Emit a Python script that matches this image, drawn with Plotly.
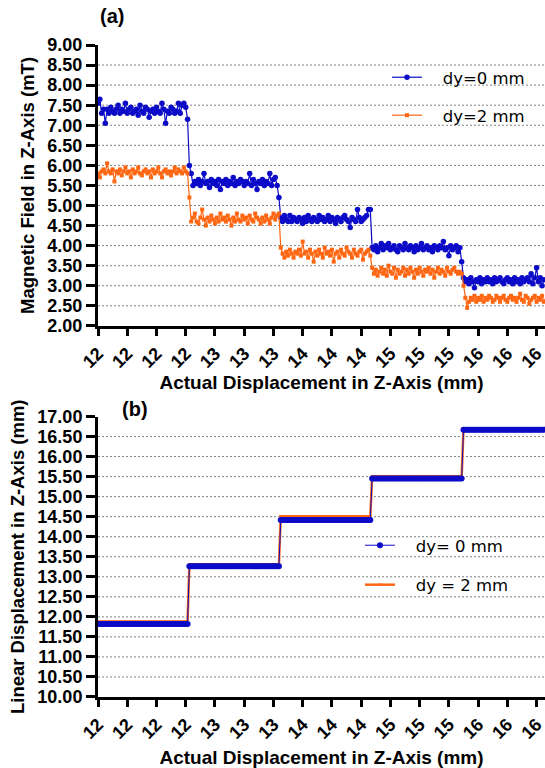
import plotly.graph_objects as go

# ---------------------------------------------------------------------------
# Data
# ---------------------------------------------------------------------------
# Magnetic field along Z (mT), one reading per sample, dy = 0 mm
mag_dy0 = [
    # step 1
    7.55, 7.65, 7.30, 7.40, 7.05, 7.40, 7.30, 7.45, 7.35, 7.30,
    7.40, 7.50, 7.30, 7.40, 7.35, 7.55, 7.30, 7.40, 7.45, 7.30,
    7.35, 7.40, 7.25, 7.50, 7.35, 7.30, 7.45, 7.40, 7.20, 7.35,
    7.40, 7.30, 7.45, 7.35, 7.30, 7.55, 7.40, 7.05, 7.35, 7.30,
    7.45, 7.40, 7.30, 7.35, 7.55, 7.30, 7.50, 7.55, 7.45, 7.15,
    # step 2
    6.00, 5.80, 5.50, 5.60, 5.55, 5.65, 5.50, 5.60, 5.80, 5.55,
    5.60, 5.45, 5.65, 5.55, 5.60, 5.50, 5.65, 5.40, 5.60, 5.55,
    5.65, 5.50, 5.60, 5.55, 5.70, 5.50, 5.60, 5.55, 5.65, 5.60,
    5.50, 5.60, 5.55, 5.80, 5.50, 5.65, 5.55, 5.40, 5.60, 5.55,
    5.65, 5.50, 5.60, 5.55, 5.80, 5.50, 5.65, 5.70, 5.50, 5.20,
    # step 3
    4.70, 4.60, 4.75, 4.65, 4.60, 4.75, 4.60, 4.70, 4.65, 4.60,
    4.70, 4.65, 4.55, 4.70, 4.60, 4.75, 4.65, 4.60, 4.70, 4.65,
    4.60, 4.75, 4.65, 4.70, 4.60, 4.65, 4.75, 4.60, 4.70, 4.65,
    4.55, 4.70, 4.65, 4.60, 4.70, 4.75, 4.65, 4.60, 4.45, 4.70,
    4.65, 4.60, 4.90, 4.70, 4.60, 4.65, 4.70, 4.75, 4.90, 4.90,
    # step 4
    3.95, 3.90, 4.00, 3.85, 3.95, 4.05, 3.90, 4.00, 3.95, 4.05,
    3.90, 3.95, 4.00, 3.90, 3.85, 4.00, 3.95, 3.90, 4.05, 3.95,
    3.90, 4.00, 3.95, 3.85, 4.00, 3.90, 3.95, 4.05, 3.90, 3.95,
    4.00, 3.90, 3.95, 3.85, 4.00, 3.95, 3.90, 4.00, 3.95, 4.10,
    3.90, 3.95, 3.75, 4.00, 3.90, 3.95, 4.00, 3.85, 3.95, 3.60,
    # step 5
    3.20, 3.10, 3.15, 3.05, 3.20, 3.10, 2.95, 3.15, 3.10, 3.20,
    3.05, 3.15, 3.10, 3.20, 3.10, 3.15, 3.05, 3.20, 3.10, 3.15,
    3.20, 3.10, 3.05, 3.15, 3.20, 3.10, 3.15, 3.05, 3.20, 3.10,
    3.15, 3.05, 3.20, 3.10, 3.15, 3.20, 3.10, 3.30, 3.05, 3.20,
    3.45, 3.10, 3.20, 3.00, 3.15, 3.10, 3.35, 3.10, 3.20, 3.05,
]

# Magnetic field along Z (mT), dy = 2 mm
mag_dy2 = [
    # step 1
    5.80, 5.70, 5.85, 5.90, 5.80, 6.05, 5.85, 5.80, 5.90, 5.60,
    5.85, 5.80, 5.90, 5.75, 5.85, 5.95, 5.80, 5.85, 5.70, 5.90,
    5.80, 5.85, 5.95, 5.80, 5.75, 5.85, 5.90, 5.80, 5.85, 5.70,
    5.90, 5.80, 5.85, 5.95, 5.80, 5.70, 5.85, 5.90, 5.80, 5.85,
    5.75, 5.85, 5.95, 5.80, 5.90, 5.85, 5.80, 5.95, 5.85, 5.80,
    # step 2
    5.20, 4.60, 4.70, 4.80, 4.60, 4.55, 4.70, 4.90, 4.65, 4.50,
    4.70, 4.60, 4.75, 4.65, 4.55, 4.70, 4.60, 4.80, 4.65, 4.70,
    4.60, 4.75, 4.65, 4.50, 4.70, 4.60, 4.80, 4.65, 4.60, 4.75,
    4.65, 4.70, 4.55, 4.75, 4.65, 4.60, 4.80, 4.70, 4.65, 4.55,
    4.70, 4.60, 4.75, 4.65, 4.55, 4.70, 4.80, 4.65, 4.75, 4.80,
    # step 3
    3.95, 3.80, 3.70, 3.85, 3.75, 3.90, 3.80, 3.70, 3.85, 3.80,
    3.90, 3.75, 4.10, 3.80, 3.85, 3.70, 3.90, 3.80, 3.60, 3.85,
    3.75, 3.90, 3.80, 3.70, 3.95, 3.80, 3.85, 3.75, 3.90, 3.60,
    3.80, 3.85, 3.70, 3.90, 3.80, 3.75, 3.95, 3.85, 3.80, 3.70,
    3.90, 3.80, 3.75, 3.85, 3.90, 3.65, 3.80, 3.85, 3.90, 3.75,
    # step 4
    3.45, 3.30, 3.40, 3.25, 3.35, 3.45, 3.30, 3.40, 3.25, 3.50,
    3.35, 3.30, 3.45, 3.20, 3.40, 3.30, 3.35, 3.45, 3.25, 3.40,
    3.30, 3.45, 3.35, 3.20, 3.40, 3.30, 3.45, 3.35, 3.25, 3.40,
    3.35, 3.45, 3.30, 3.40, 3.20, 3.35, 3.45, 3.30, 3.40, 3.35,
    3.25, 3.45, 3.35, 3.30, 3.40, 3.45, 3.35, 3.30, 3.35, 3.30,
    # step 5
    3.00, 2.70, 2.45, 2.60, 2.70, 2.65, 2.75, 2.60, 2.70, 2.65,
    2.75, 2.60, 2.70, 2.65, 2.75, 2.70, 2.60, 2.65, 2.75, 2.70,
    2.60, 2.70, 2.75, 2.65, 2.60, 2.70, 2.75, 2.65, 2.70, 2.60,
    2.70, 2.80, 2.65, 2.60, 2.75, 2.70, 2.55, 2.65, 2.70, 2.75,
    2.60, 2.70, 2.65, 2.75, 2.60, 2.70, 2.65, 2.75, 2.70, 2.65,
]

# Linear displacement reported at each step (mm) and samples held per step
step_disp_dy0 = [11.82, 13.26, 14.42, 15.45, 16.67]
step_disp_dy2 = [11.88, 13.31, 14.51, 15.51, 16.67]
samples_per_step = 50

# Actual displacement labels shown along the sample axis (every 16 samples)
tick_labels = ["12", "12", "12", "12", "13", "13", "13", "14",
               "14", "14", "15", "15", "15", "16", "16", "16"]
tick_every = 16

y_ticks_a = [2.0, 2.5, 3.0, 3.5, 4.0, 4.5, 5.0, 5.5, 6.0, 6.5, 7.0, 7.5, 8.0, 8.5, 9.0]
y_ticks_b = [10.0, 10.5, 11.0, 11.5, 12.0, 12.5, 13.0, 13.5, 14.0, 14.5, 15.0,
             15.5, 16.0, 16.5, 17.0]

# ---------------------------------------------------------------------------
samples = list(range(len(mag_dy0)))
disp_dy0 = [v for v in step_disp_dy0 for _ in range(samples_per_step)]
disp_dy2 = [v for v in step_disp_dy2 for _ in range(samples_per_step)]

BLUE = "#0B0BC8"
ORANGE = "#FF6612"
NB = "\u00a0\u00a0\u00a0"

fig = go.Figure()

# (a) magnetic field
fig.add_trace(go.Scatter(
    x=samples, y=mag_dy0, mode="lines+markers", name=NB + "dy=0 mm",
    line=dict(color=BLUE, width=1.2),
    marker=dict(color=BLUE, size=5.5, symbol="circle"),
    xaxis="x", yaxis="y", legend="legend", cliponaxis=False,
))
fig.add_trace(go.Scatter(
    x=samples, y=mag_dy2, mode="lines+markers", name=NB + "dy=2 mm",
    line=dict(color=ORANGE, width=1.2),
    marker=dict(color=ORANGE, size=4, symbol="square"),
    xaxis="x", yaxis="y", legend="legend", cliponaxis=False,
))

# (b) linear displacement
fig.add_trace(go.Scatter(
    x=samples, y=disp_dy2, mode="lines+markers", name=NB + "dy = 2 mm",
    line=dict(color=ORANGE, width=2.5),
    marker=dict(color=ORANGE, size=2.5, symbol="square"),
    xaxis="x2", yaxis="y2", legend="legend2", legendrank=2, cliponaxis=False,
))
fig.add_trace(go.Scatter(
    x=samples, y=disp_dy0, mode="lines+markers", name=NB + "dy= 0 mm",
    line=dict(color=BLUE, width=1),
    marker=dict(color=BLUE, size=6, symbol="circle"),
    xaxis="x2", yaxis="y2", legend="legend2", legendrank=1, cliponaxis=False,
))

for i, tr in enumerate(fig.data):
    tr.legendgroup = f"g{i}"

BOLD = dict(family="Liberation Sans, Arial, sans-serif", size=18, color="black", weight="bold")
TITLE_FONT = dict(family="Liberation Sans, Arial, sans-serif", size=18.5, color="black", weight="bold")
XTITLE_FONT = dict(family="Liberation Sans, Arial, sans-serif", size=19, color="black", weight="bold")
LEG_FONT = dict(family="DejaVu Sans, Verdana, sans-serif", size=16.5, color="black")

x_ticks = list(range(0, len(samples), tick_every))[:len(tick_labels)]
x_common = dict(
    range=[0, 244.6], showline=True, linewidth=3, linecolor="black",
    ticks="outside", ticklen=7, tickwidth=3, tickcolor="black",
    tickmode="array", tickvals=x_ticks, ticktext=tick_labels, tickangle=-45,
    tickfont=BOLD, showgrid=False, zeroline=False, automargin=False,
    ticklabeloverflow="allow",
)
y_common = dict(
    showline=True, linewidth=3, linecolor="black",
    ticks="outside", ticklen=9, tickwidth=3, tickcolor="black",
    tickmode="array", tickformat=".2f", tickfont=BOLD,
    showgrid=False, zeroline=False, automargin=False,
)

fig.update_layout(
    width=545, height=768,
    margin=dict(l=98, r=0, t=45, b=71),
    paper_bgcolor="white", plot_bgcolor="white",
    xaxis=dict(**x_common, anchor="y", domain=[0, 1],
               title=dict(text="Actual Displacement in Z-Axis (mm)", font=XTITLE_FONT, standoff=5)),
    yaxis=dict(**y_common, range=[2, 9], tickvals=y_ticks_a, domain=[0.5692, 1],
               title=dict(text="Magnetic Field in Z-Axis (mT)", font=TITLE_FONT, standoff=8)),
    xaxis2=dict(**x_common, anchor="y2", domain=[0, 1],
                title=dict(text="Actual Displacement in Z-Axis (mm)", font=XTITLE_FONT, standoff=12)),
    yaxis2=dict(**y_common, range=[10, 17], tickvals=y_ticks_b, domain=[0, 0.4302],
                title=dict(text="Linear Displacement in Z-Axis (mm)", font=TITLE_FONT, standoff=8)),
    legend=dict(x=0.6465, y=1.0 - 15 / 652, xanchor="left", yanchor="top",
                font=LEG_FONT, bgcolor="rgba(0,0,0,0)", tracegroupgap=13.5,
                itemwidth=30),
    legend2=dict(x=0.586, y=(697 - 528) / 652, xanchor="left", yanchor="top",
                 font=LEG_FONT, bgcolor="rgba(0,0,0,0)", tracegroupgap=15,
                 itemwidth=30),
    showlegend=True,
)

# Dotted horizontal grid (no line at the top of each panel)
shapes = []
for v in y_ticks_a[1:-1]:
    shapes.append(dict(type="line", xref="x domain", yref="y", x0=0, x1=1, y0=v, y1=v,
                       line=dict(color="#808080", width=1, dash="2px,2px"), layer="below"))
for v in y_ticks_b[1:-1]:
    shapes.append(dict(type="line", xref="x2 domain", yref="y2", x0=0, x1=1, y0=v, y1=v,
                       line=dict(color="#808080", width=1, dash="2px,2px"), layer="below"))
fig.update_layout(shapes=shapes)

fig.add_annotation(text="(a)", xref="paper", yref="paper", x=0.0313, y=1.0445,
                   showarrow=False, xanchor="center", yanchor="middle",
                   font=dict(family="Liberation Sans, Arial, sans-serif", size=20,
                             color="black", weight="bold"))
fig.add_annotation(text="(b)", xref="paper", yref="paper", x=0.0828, y=0.441,
                   showarrow=False, xanchor="center", yanchor="middle",
                   font=dict(family="Liberation Sans, Arial, sans-serif", size=20,
                             color="black", weight="bold"))

fig.write_html("out.html")
